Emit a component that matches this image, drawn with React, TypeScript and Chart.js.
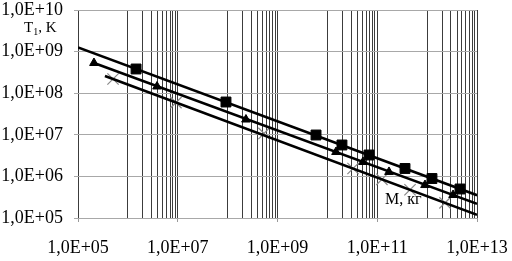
import React, { useEffect, useRef } from "react";
import { Chart, registerables } from "chart.js";

Chart.register(...registerables);

// Data (M in kg, T1 in K)
const squareM = [1.46e6, 9.27e7, 5.92e9, 1.96e10, 6.84e10, 3.6e11, 1.25e12, 4.56e12];
const squareT = [3.82e8, 6.14e7, 9.89e6, 5.69e6, 3.27e6, 1.55e6, 8.9e5, 4.98e5];
const triangleM = [2.09e5, 3.84e6, 2.33e8, 1.49e10, 5.18e10, 1.72e11, 9.06e11, 3.31e12];
const triangleT = [5.32e8, 1.45e8, 2.33e7, 3.86e6, 2.22e6, 1.28e6, 6.2e5, 3.57e5];
const crossM = [5.04e5, 9.2e6, 5.36e8, 3.27e10, 1.24e11, 4.54e11, 2.28e12];
const crossT = [2.19e8, 5.94e7, 1.08e7, 1.55e6, 8.5e5, 4.77e5, 2.31e5];

// Trend lines (end points)
const squareLineM = [1e5, 1e13];
const squareLineT = [1.26e9, 3.53e5];
const triangleLineM = [1.91e5, 1e13];
const triangleLineT = [5.53e8, 2.19e5];
const crossLineM = [3.47e5, 1e13];
const crossLineT = [2.59e8, 1.19e5];

// Axes
const xGridValues = [
  1e5, 1e6, 2e6, 3e6, 4e6, 5e6, 6e6, 7e6, 8e6, 9e6, 1e7,
  1e8, 2e8, 3e8, 4e8, 5e8, 6e8, 7e8, 8e8, 9e8, 1e9,
  1e10, 2e10, 3e10, 4e10, 5e10, 6e10, 7e10, 8e10, 9e10, 1e11,
  1e12, 2e12, 3e12, 4e12, 5e12, 6e12, 7e12, 8e12, 9e12, 1e13,
];
const xLabelValues = [1e5, 1e7, 1e9, 1e11, 1e13];
const yGridValues = [1e5, 1e6, 1e7, 1e8, 1e9, 1e10];

const yTitleMain = "T";
const yTitleSub = "1";
const yTitleRest = ", K";
const xTitle = "M, кг";

const FONT = '"Liberation Serif", "Times New Roman", serif';

function fmt(v: number): string {
  const e = Math.round(Math.log10(v));
  return "1,0E+" + String(e).padStart(2, "0");
}

function pts(xs: number[], ys: number[]) {
  return xs.map((x, i) => ({ x, y: ys[i] }));
}

function zeroPadding(scale: any) {
  scale.paddingTop = 0;
  scale.paddingBottom = 0;
  scale.paddingLeft = 0;
  scale.paddingRight = 0;
}

const titlePlugin = {
  id: "axisTitles",
  afterDraw(chart: any) {
    const ctx = chart.ctx as CanvasRenderingContext2D;
    ctx.save();
    ctx.fillStyle = "#000";
    ctx.textBaseline = "middle";
    ctx.textAlign = "left";
    let x = 24;
    const y = 28;
    ctx.font = "15px " + FONT;
    ctx.fillText(yTitleMain, x, y);
    x += ctx.measureText(yTitleMain).width;
    ctx.font = "10px " + FONT;
    ctx.fillText(yTitleSub, x, y + 4);
    x += ctx.measureText(yTitleSub).width;
    ctx.font = "15px " + FONT;
    ctx.fillText(yTitleRest, x, y);
    ctx.font = "16px " + FONT;
    ctx.fillText(xTitle, 385, 200);
    ctx.restore();
  },
};

export default function App() {
  const ref = useRef<HTMLCanvasElement | null>(null);

  useEffect(() => {
    document.body.style.margin = "0";
    const canvas = ref.current;
    if (!canvas) return;
    const lineDs = (xs: number[], ys: number[]) => ({
      data: pts(xs, ys),
      showLine: true,
      borderColor: "#000",
      borderWidth: 2.6,
      pointRadius: 0,
      fill: false,
    });
    const chart = new Chart(canvas, {
      type: "scatter",
      data: {
        datasets: [
          lineDs(squareLineM, squareLineT),
          lineDs(triangleLineM, triangleLineT),
          lineDs(crossLineM, crossLineT),
          {
            data: pts(squareM, squareT),
            pointStyle: "rect",
            pointRadius: 7,
            backgroundColor: "#000",
            borderColor: "#000",
            borderWidth: 1,
          },
          {
            data: pts(triangleM, triangleT),
            pointStyle: "triangle",
            pointRadius: 5,
            backgroundColor: "#000",
            borderColor: "#000",
            borderWidth: 1,
          },
          {
            data: pts(crossM, crossT),
            pointStyle: "crossRot",
            pointRadius: 8,
            backgroundColor: "#8a8a8a",
            borderColor: "#8a8a8a",
            borderWidth: 1.2,
          },
        ],
      } as any,
      options: {
        responsive: false,
        animation: false,
        events: [],
        layout: { padding: { top: 10, right: 35, left: 0, bottom: 0 } },
        plugins: { legend: { display: false }, tooltip: { enabled: false } },
        scales: {
          x: {
            type: "logarithmic",
            min: 1e5,
            max: 1e13,
            afterBuildTicks: (scale: any) => {
              scale.ticks = xGridValues.map((v) => ({ value: v }));
            },
            afterFit: (scale: any) => {
              scale.height = 43;
              zeroPadding(scale);
            },
            border: { display: false },
            grid: {
              color: "#3c3c3c",
              lineWidth: 1,
              tickLength: 4,
              tickColor: (ctx: any) =>
                ctx.tick && xLabelValues.includes(ctx.tick.value) ? "#999" : "rgba(0,0,0,0)",
            },
            ticks: {
              autoSkip: false,
              maxRotation: 0,
              minRotation: 0,
              padding: 15,
              color: "#000",
              font: { family: FONT, size: 18 },
              callback: (v: any) => (xLabelValues.includes(Number(v)) ? fmt(Number(v)) : ""),
            },
          },
          y: {
            type: "logarithmic",
            min: 1e5,
            max: 1e10,
            afterBuildTicks: (scale: any) => {
              scale.ticks = yGridValues.map((v) => ({ value: v }));
            },
            afterFit: (scale: any) => {
              scale.width = 78;
              zeroPadding(scale);
            },
            border: { display: false },
            grid: {
              color: "#a8a8a8",
              lineWidth: 1,
              tickLength: 4,
              tickColor: "#a8a8a8",
            },
            ticks: {
              autoSkip: false,
              padding: 11,
              color: "#000",
              font: { family: FONT, size: 18 },
              callback: (v: any) => fmt(Number(v)),
            },
          },
        },
      } as any,
      plugins: [titlePlugin],
    });
    return () => chart.destroy();
  }, []);

  return (
    <div style={{ position: "absolute", left: 0, top: 0, width: 512, height: 261, background: "#fff" }}>
      <canvas ref={ref} width={512} height={261} />
    </div>
  );
}
